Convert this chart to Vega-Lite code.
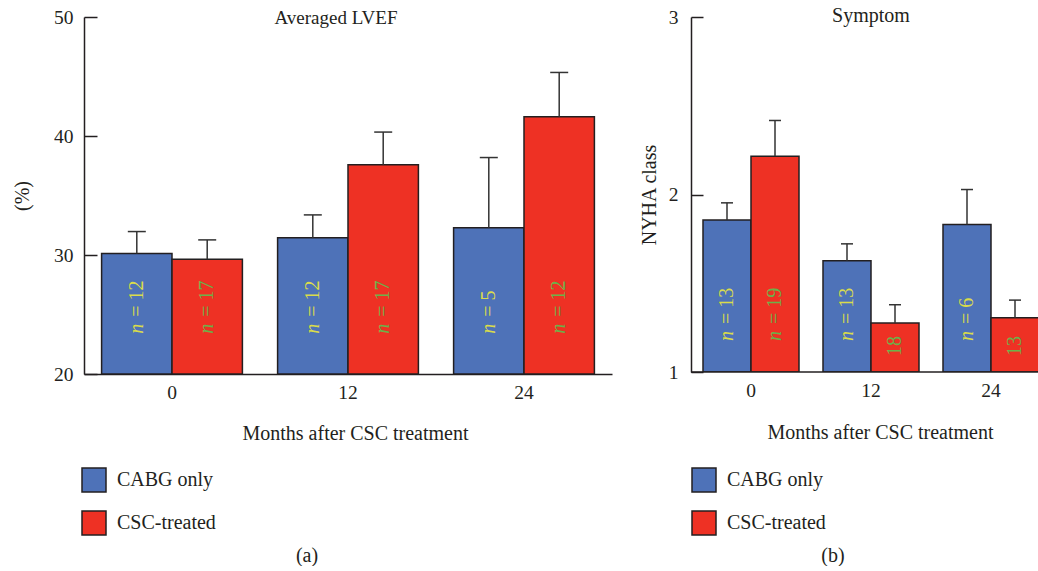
{
  "$schema": "https://vega.github.io/schema/vega-lite/v6.json",
  "background": "white",
  "padding": {"left": 12, "top": 6, "right": 0, "bottom": 0},
  "config": {
    "font": "Liberation Serif",
    "view": {"stroke": null},
    "axis": {
      "labelFont": "Liberation Serif", "titleFont": "Liberation Serif",
      "labelFontSize": 19.5, "titleFontSize": 20, "titleFontWeight": "normal",
      "labelColor": "#231f20", "titleColor": "#231f20",
      "domainColor": "#231f20", "tickColor": "#231f20",
      "domainWidth": 1.5, "tickWidth": 1.5, "grid": false
    },
    "legend": {
      "title": null, "orient": "none", "direction": "vertical",
      "symbolType": "square", "symbolSize": 576, "symbolStrokeColor": "#231f20",
      "symbolStrokeWidth": 1.5, "symbolOpacity": 1,
      "labelFont": "Liberation Serif", "labelFontSize": 20, "labelColor": "#231f20",
      "labelOffset": 10, "rowPadding": 13, "padding": 0
    },
    "title": {"font": "Liberation Serif", "fontSize": 20, "fontWeight": "normal", "color": "#231f20"}
  },
  "datasets": {
    "lvef": [
      {"month": "0", "group": "CABG only", "value": 30.12, "err": 31.97, "pre": "n", "lab": "= 12"},
      {"month": "0", "group": "CSC-treated", "value": 29.65, "err": 31.27, "pre": "n", "lab": "= 17"},
      {"month": "12", "group": "CABG only", "value": 31.46, "err": 33.37, "pre": "n", "lab": "= 12"},
      {"month": "12", "group": "CSC-treated", "value": 37.58, "err": 40.33, "pre": "n", "lab": "= 17"},
      {"month": "24", "group": "CABG only", "value": 32.28, "err": 38.19, "pre": "n", "lab": "= 5"},
      {"month": "24", "group": "CSC-treated", "value": 41.61, "err": 45.34, "pre": "n", "lab": "= 12"}
    ],
    "nyha": [
      {"month": "0", "group": "CABG only", "value": 1.856, "err": 1.953, "pre": "n", "lab": "= 13"},
      {"month": "0", "group": "CSC-treated", "value": 2.216, "err": 2.417, "pre": "n", "lab": "= 19"},
      {"month": "12", "group": "CABG only", "value": 1.627, "err": 1.722, "pre": "n", "lab": "= 13"},
      {"month": "12", "group": "CSC-treated", "value": 1.276, "err": 1.379, "pre": "", "lab": "18"},
      {"month": "24", "group": "CABG only", "value": 1.831, "err": 2.028, "pre": "n", "lab": "= 6"},
      {"month": "24", "group": "CSC-treated", "value": 1.306, "err": 1.405, "pre": "", "lab": "13"}
    ]
  },
  "bounds": "flush",
  "spacing": 79,
  "resolve": {
    "scale": {"x": "independent", "y": "independent", "xOffset": "independent", "color": "independent", "fill": "independent"},
    "axis": {"x": "independent", "y": "independent"},
    "legend": {"color": "independent"}
  },
  "hconcat": [
    {
      "width": 528,
      "height": 357,
      "title": {"text": "(a)", "orient": "bottom", "offset": 8, "baseline": "top", "dx": -41},
      "data": {"name": "lvef"},
      "layer": [
        {
          "mark": {"type": "bar", "stroke": "#231f20", "strokeWidth": 1.5},
          "encoding": {
            "x": {"field": "month", "type": "nominal", "sort": ["0", "12", "24"],
              "scale": {"paddingInner": 0.2, "paddingOuter": 0.1},
              "axis": {"title": "Months after CSC treatment", "labelAngle": 0, "ticks": false, "labelPadding": 9,
                "titleX": 271, "titleY": 65, "titleBaseline": "alphabetic"}},
            "xOffset": {"field": "group", "type": "nominal", "sort": ["CABG only", "CSC-treated"], "scale": {"paddingInner": 0, "paddingOuter": 0}},
            "y": {"field": "value", "type": "quantitative",
              "scale": {"domain": [20, 50], "zero": false, "nice": false},
              "axis": {"title": "(%)", "values": [20, 30, 40, 50], "format": "d", "tickSize": -13, "labelPadding": 24,
                "titleX": -62, "titleY": 178.5, "titleBaseline": "middle", "titleAngle": 270}},
            "y2": {"datum": 20},
            "color": {"field": "group", "type": "nominal",
              "scale": {"domain": ["CABG only", "CSC-treated"], "range": ["#4E72B8", "#EE3124"]},
              "legend": {"legendX": -3, "legendY": 450}}
          }
        },
        {
          "mark": {"type": "rule", "color": "#333333", "strokeWidth": 1.5},
          "encoding": {
            "x": {"field": "month", "type": "nominal", "sort": ["0", "12", "24"]},
            "xOffset": {"field": "group", "type": "nominal", "sort": ["CABG only", "CSC-treated"]},
            "y": {"field": "value", "type": "quantitative"},
            "y2": {"field": "err"}
          }
        },
        {
          "mark": {"type": "tick", "color": "#333333", "thickness": 1.5, "size": 18, "opacity": 1},
          "encoding": {
            "x": {"field": "month", "type": "nominal", "sort": ["0", "12", "24"]},
            "xOffset": {"field": "group", "type": "nominal", "sort": ["CABG only", "CSC-treated"]},
            "y": {"field": "err", "type": "quantitative"}
          }
        },
        {
          "transform": [{"filter": "datum.pre != ''"}],
          "mark": {"type": "text", "angle": 270, "align": "left", "baseline": "middle", "fontStyle": "italic", "fontSize": 20, "font": "Liberation Serif"},
          "encoding": {
            "x": {"field": "month", "type": "nominal", "sort": ["0", "12", "24"]},
            "xOffset": {"field": "group", "type": "nominal", "sort": ["CABG only", "CSC-treated"]},
            "y": {"datum": 23.39},
            "text": {"field": "pre"},
            "fill": {"field": "group", "type": "nominal", "scale": {"domain": ["CABG only", "CSC-treated"], "range": ["#DADC4B", "#6CB14A"]}, "legend": null}
          }
        },
        {
          "transform": [{"filter": "datum.pre != ''"}],
          "mark": {"type": "text", "angle": 270, "align": "left", "baseline": "middle", "fontSize": 20, "dx": 17, "font": "Liberation Serif"},
          "encoding": {
            "x": {"field": "month", "type": "nominal", "sort": ["0", "12", "24"]},
            "xOffset": {"field": "group", "type": "nominal", "sort": ["CABG only", "CSC-treated"]},
            "y": {"datum": 23.39},
            "text": {"field": "lab"},
            "fill": {"field": "group", "type": "nominal", "legend": null}
          }
        },
        {
          "data": {"values": [{"t": "Averaged LVEF"}]},
          "mark": {"type": "text", "fontSize": 19, "baseline": "alphabetic", "align": "center", "dx": -12, "dy": 7, "color": "#231f20"},
          "encoding": {
            "x": {"datum": "12"},
            "y": {"datum": 50},
            "text": {"field": "t"}
          }
        }
      ]
    },
    {
      "width": 348,
      "height": 355,
      "title": {"text": "(b)", "orient": "bottom", "offset": 8, "baseline": "top", "dx": -32},
      "data": {"name": "nyha"},
      "layer": [
        {
          "mark": {"type": "bar", "stroke": "#231f20", "strokeWidth": 1.5, "clip": true},
          "encoding": {
            "x": {"field": "month", "type": "nominal", "sort": ["0", "12", "24"],
              "scale": {"paddingInner": 0.2, "paddingOuter": 0.1, "range": [0, 360]},
              "axis": {"title": "Months after CSC treatment", "labelAngle": 0, "ticks": false, "domain": false, "labelPadding": 9,
                "titleX": 189, "titleY": 66, "titleBaseline": "alphabetic"}},
            "xOffset": {"field": "group", "type": "nominal", "sort": ["CABG only", "CSC-treated"], "scale": {"paddingInner": 0, "paddingOuter": 0, "range": [0, 96]}},
            "y": {"field": "value", "type": "quantitative",
              "scale": {"domain": [1, 3], "zero": false, "nice": false},
              "axis": {"title": "NYHA class", "values": [1, 2, 3], "format": ".0f", "labelOverlap": false, "tickSize": -12, "labelPadding": 25,
                "titleX": -42, "titleY": 177.5, "titleBaseline": "middle", "titleAngle": 270}},
            "y2": {"datum": 1},
            "color": {"field": "group", "type": "nominal",
              "scale": {"domain": ["CABG only", "CSC-treated"], "range": ["#4E72B8", "#EE3124"]},
              "legend": {"legendX": 0, "legendY": 450}}
          }
        },
        {
          "mark": {"type": "rule", "color": "#333333", "strokeWidth": 1.5, "clip": true},
          "encoding": {
            "x": {"field": "month", "type": "nominal", "sort": ["0", "12", "24"]},
            "xOffset": {"field": "group", "type": "nominal", "sort": ["CABG only", "CSC-treated"]},
            "y": {"field": "value", "type": "quantitative"},
            "y2": {"field": "err"}
          }
        },
        {
          "mark": {"type": "tick", "color": "#333333", "thickness": 1.5, "size": 12, "opacity": 1, "clip": true},
          "encoding": {
            "x": {"field": "month", "type": "nominal", "sort": ["0", "12", "24"]},
            "xOffset": {"field": "group", "type": "nominal", "sort": ["CABG only", "CSC-treated"]},
            "y": {"field": "err", "type": "quantitative"}
          }
        },
        {
          "transform": [{"filter": "datum.pre != ''"}],
          "mark": {"type": "text", "angle": 270, "align": "left", "baseline": "middle", "fontStyle": "italic", "fontSize": 20, "font": "Liberation Serif", "clip": true},
          "encoding": {
            "x": {"field": "month", "type": "nominal", "sort": ["0", "12", "24"]},
            "xOffset": {"field": "group", "type": "nominal", "sort": ["CABG only", "CSC-treated"]},
            "y": {"datum": 1.175},
            "text": {"field": "pre"},
            "fill": {"field": "group", "type": "nominal", "scale": {"domain": ["CABG only", "CSC-treated"], "range": ["#DADC4B", "#6CB14A"]}, "legend": null}
          }
        },
        {
          "transform": [{"filter": "datum.pre != ''"}],
          "mark": {"type": "text", "angle": 270, "align": "left", "baseline": "middle", "fontSize": 20, "dx": 17, "font": "Liberation Serif", "clip": true},
          "encoding": {
            "x": {"field": "month", "type": "nominal", "sort": ["0", "12", "24"]},
            "xOffset": {"field": "group", "type": "nominal", "sort": ["CABG only", "CSC-treated"]},
            "y": {"datum": 1.175},
            "text": {"field": "lab"},
            "fill": {"field": "group", "type": "nominal", "legend": null}
          }
        },
        {
          "transform": [{"filter": "datum.pre == ''"}],
          "mark": {"type": "text", "angle": 270, "align": "center", "baseline": "middle", "fontSize": 20, "font": "Liberation Serif", "clip": true},
          "encoding": {
            "x": {"field": "month", "type": "nominal", "sort": ["0", "12", "24"]},
            "xOffset": {"field": "group", "type": "nominal", "sort": ["CABG only", "CSC-treated"]},
            "y": {"datum": 1.146},
            "text": {"field": "lab"},
            "fill": {"field": "group", "type": "nominal", "legend": null}
          }
        },
        {
          "data": {"values": [{}]},
          "mark": {"type": "rule", "color": "#231f20", "strokeWidth": 1.5},
          "encoding": {"y": {"datum": 1}}
        },
        {
          "data": {"values": [{"t": "Symptom"}]},
          "mark": {"type": "text", "fontSize": 20, "baseline": "alphabetic", "align": "center", "dy": 5, "color": "#231f20"},
          "encoding": {
            "x": {"datum": "12"},
            "y": {"datum": 3},
            "text": {"field": "t"}
          }
        }
      ]
    }
  ]
}
